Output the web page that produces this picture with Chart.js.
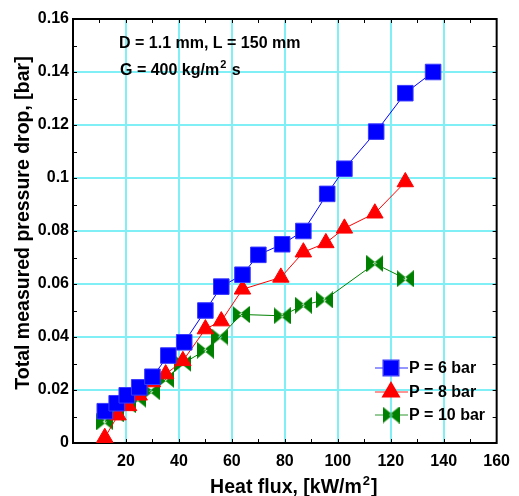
<!DOCTYPE html>
<html>
<head>
<meta charset="utf-8">
<script src="https://cdn.jsdelivr.net/npm/chart.js@4.4.1/dist/chart.umd.min.js"></script>
<style>
  html, body { margin: 0; padding: 0; background: #fff; }
  #wrap { width: 519px; height: 496px; }
</style>
</head>
<body>
<div id="wrap"><canvas id="chart" width="519" height="496"></canvas></div>
<script>
// heat flux [kW/m2] and total pressure drop [bar] for each saturation pressure
const flux6 = [12, 16.5, 20.3, 25, 30, 36, 42, 50, 56, 64, 70, 79, 87, 96, 102.5, 114.5, 125.5, 136]
const drop6 = [0.012, 0.015, 0.018, 0.021, 0.025, 0.033, 0.038, 0.050, 0.059, 0.0635, 0.071, 0.075, 0.080, 0.094, 0.1035, 0.1175, 0.132, 0.140]

const flux8 = [12, 17, 21, 25, 30, 35, 41.5, 50, 56, 64, 78.5, 87, 95.5, 102.5, 114, 125.5]
const drop8 = [0.002, 0.0105, 0.014, 0.018, 0.023, 0.026, 0.031, 0.043, 0.046, 0.058, 0.0625, 0.072, 0.0755, 0.081, 0.0867, 0.0985]

const flux10 = [12, 16, 20.5, 24.5, 29.5, 35, 41.5, 50, 55.5, 63.5, 79, 87, 95, 114, 125.5]
const drop10 = [0.008, 0.011, 0.0145, 0.0165, 0.0195, 0.024, 0.030, 0.035, 0.040, 0.0485, 0.048, 0.052, 0.054, 0.0677, 0.062]

const seriesLabels = ['P = 6 bar', 'P = 8 bar', 'P = 10 bar']
const infoLine1 = 'D = 1.1 mm, L = 150 mm'
const infoLine2 = ['G = 400 kg/m', '2', ' s']
const xTitle = ['Heat flux, [kW/m', '2', ']']
const yTitle = 'Total measured pressure drop, [bar]'

const FONT = 'Liberation Sans, Arial, Helvetica, sans-serif'
Chart.defaults.font.family = FONT
Chart.defaults.font.size = 16
Chart.defaults.font.weight = 'bold'
Chart.defaults.color = '#000000'

const GRID = '#80f0f6'

// bow-tie marker (two triangles pointing at each other)
function bowtie(color) {
  const c = document.createElement('canvas')
  c.width = 17
  c.height = 17
  const g = c.getContext('2d')
  g.fillStyle = color
  g.beginPath()
  g.moveTo(0, 0); g.lineTo(10.5, 8.5); g.lineTo(0, 17); g.closePath()
  g.moveTo(17, 0); g.lineTo(6.5, 8.5); g.lineTo(17, 17); g.closePath()
  g.fill()
  return c
}

const toPoints = (xs, ys) => xs.map((x, i) => ({ x: x, y: ys[i] }))

// text with a raised middle part: [base, superscript, tail]
function superText(ctx, parts, x, y, size, supSize, rise) {
  ctx.font = 'bold ' + size + 'px ' + FONT
  ctx.fillText(parts[0], x, y)
  x += ctx.measureText(parts[0]).width + 1
  ctx.font = 'bold ' + supSize + 'px ' + FONT
  ctx.fillText(parts[1], x, y - rise)
  x += ctx.measureText(parts[1]).width + 1
  ctx.font = 'bold ' + size + 'px ' + FONT
  ctx.fillText(parts[2], x, y)
}

function superWidth(ctx, parts, size, supSize) {
  ctx.font = 'bold ' + size + 'px ' + FONT
  let w = ctx.measureText(parts[0]).width + ctx.measureText(parts[2]).width + 2
  ctx.font = 'bold ' + supSize + 'px ' + FONT
  return w + ctx.measureText(parts[1]).width
}

// frame, inward minor ticks, axis titles, text box and legend
const decorations = {
  id: 'decorations',
  beforeDatasetsDraw(chart) {
    const { ctx, chartArea: a, scales: { x, y } } = chart
    ctx.save()
    ctx.strokeStyle = '#000'
    ctx.lineWidth = 1
    ctx.beginPath()
    for (let v = 10; v < 160; v += 10) {
      const px = Math.round(x.getPixelForValue(v)) + 0.5
      ctx.moveTo(px, a.bottom); ctx.lineTo(px, a.bottom - 4)
      ctx.moveTo(px, a.top); ctx.lineTo(px, a.top + 4)
    }
    for (let k = 1; k < 16; k++) {
      const py = Math.round(y.getPixelForValue(k / 100)) + 0.5
      ctx.moveTo(a.left, py); ctx.lineTo(a.left + 4, py)
      ctx.moveTo(a.right, py); ctx.lineTo(a.right - 4, py)
    }
    ctx.stroke()
    ctx.lineWidth = 2
    ctx.strokeRect(a.left, a.top, a.right - a.left, a.bottom - a.top)
    ctx.restore()
  },
  afterDraw(chart) {
    const { ctx, chartArea: a } = chart
    ctx.save()
    ctx.fillStyle = '#000'
    ctx.textAlign = 'left'
    ctx.textBaseline = 'alphabetic'

    // axis titles
    const xw = superWidth(ctx, xTitle, 19.5, 13)
    superText(ctx, xTitle, (a.left + a.right) / 2 + 9 - xw / 2, 493, 19.5, 13, 8)
    ctx.save()
    ctx.translate(24, (a.top + a.bottom) / 2 - 8)
    ctx.rotate(-Math.PI / 2)
    ctx.textAlign = 'center'
    ctx.textBaseline = 'middle'
    ctx.font = 'bold 19.5px ' + FONT
    ctx.fillText(yTitle, 0, 0)
    ctx.restore()

    // description text
    ctx.font = 'bold 16px ' + FONT
    ctx.fillText(infoLine1, a.left + 46, a.top + 29)
    superText(ctx, infoLine2, a.left + 47, a.top + 56, 16, 11, 7)

    // legend: short line with marker, then label
    const mx = 391
    const rowsY = [368, 392, 415]
    chart.data.datasets.forEach((ds, i) => {
      const ly = rowsY[i]
      ctx.strokeStyle = ds.borderColor
      ctx.globalAlpha = 0.55
      ctx.lineWidth = 1.5
      ctx.beginPath()
      ctx.moveTo(mx - 16, ly)
      ctx.lineTo(mx + 17, ly)
      ctx.stroke()
      ctx.globalAlpha = 1
      ctx.fillStyle = ds.pointBackgroundColor
      ctx.strokeStyle = ds.pointBorderColor
      Chart.helpers.drawPoint(ctx, {
        pointStyle: ds.pointStyle,
        radius: ds.pointRadius,
        rotation: 0,
        borderWidth: 1
      }, mx, ly)
      ctx.fillStyle = '#000'
      ctx.textBaseline = 'middle'
      ctx.font = 'bold 16px ' + FONT
      ctx.fillText(ds.label, mx + 18, ly + 1)
    })
    ctx.restore()
  }
}

new Chart(document.getElementById('chart'), {
  type: 'line',
  data: {
    datasets: [{
      label: seriesLabels[0],
      data: toPoints(flux6, drop6),
      borderColor: '#0000ff',
      borderWidth: 1,
      pointStyle: 'rect',
      pointRadius: 11,
      pointBackgroundColor: '#0000ff',
      pointBorderColor: '#3a3aff',
      pointBorderWidth: 1
    }, {
      label: seriesLabels[1],
      data: toPoints(flux8, drop8),
      borderColor: '#ff0000',
      borderWidth: 1,
      pointStyle: 'triangle',
      pointRadius: 9.5,
      pointBackgroundColor: '#ff0000',
      pointBorderColor: '#ff0000',
      pointBorderWidth: 1
    }, {
      label: seriesLabels[2],
      data: toPoints(flux10, drop10),
      borderColor: '#008000',
      borderWidth: 1,
      pointStyle: bowtie('#008000'),
      pointRadius: 8,
      pointBackgroundColor: '#008000',
      pointBorderColor: '#008000',
      pointBorderWidth: 1
    }]
  },
  options: {
    responsive: false,
    animation: false,
    devicePixelRatio: 1,
    events: [],
    layout: { padding: { top: 19, right: 22, left: 0, bottom: 0 } },
    plugins: {
      legend: { display: false },
      tooltip: { enabled: false }
    },
    scales: {
      x: {
        type: 'linear',
        min: 0,
        max: 160,
        afterFit(scale) { scale.height = 53 },
        ticks: {
          stepSize: 20,
          padding: 9,
          maxRotation: 0,
          callback: v => (v === 0 ? '' : String(v))
        },
        grid: {
          drawTicks: false,
          lineWidth: 2,
          color: ctx => (ctx.tick && (ctx.tick.value === 0 || ctx.tick.value === 160) ? 'rgba(0,0,0,0)' : GRID)
        },
        border: { display: false }
      },
      y: {
        min: 0,
        max: 0.16,
        afterFit(scale) { scale.width = 73 },
        ticks: {
          stepSize: 0.02,
          padding: 4,
          callback: v => String(+v.toFixed(2))
        },
        grid: {
          drawTicks: false,
          lineWidth: 2,
          color: ctx => (ctx.tick && (ctx.tick.value === 0 || ctx.tick.value >= 0.159) ? 'rgba(0,0,0,0)' : GRID)
        },
        border: { display: false }
      }
    }
  },
  plugins: [decorations]
})
</script>
</body>
</html>
